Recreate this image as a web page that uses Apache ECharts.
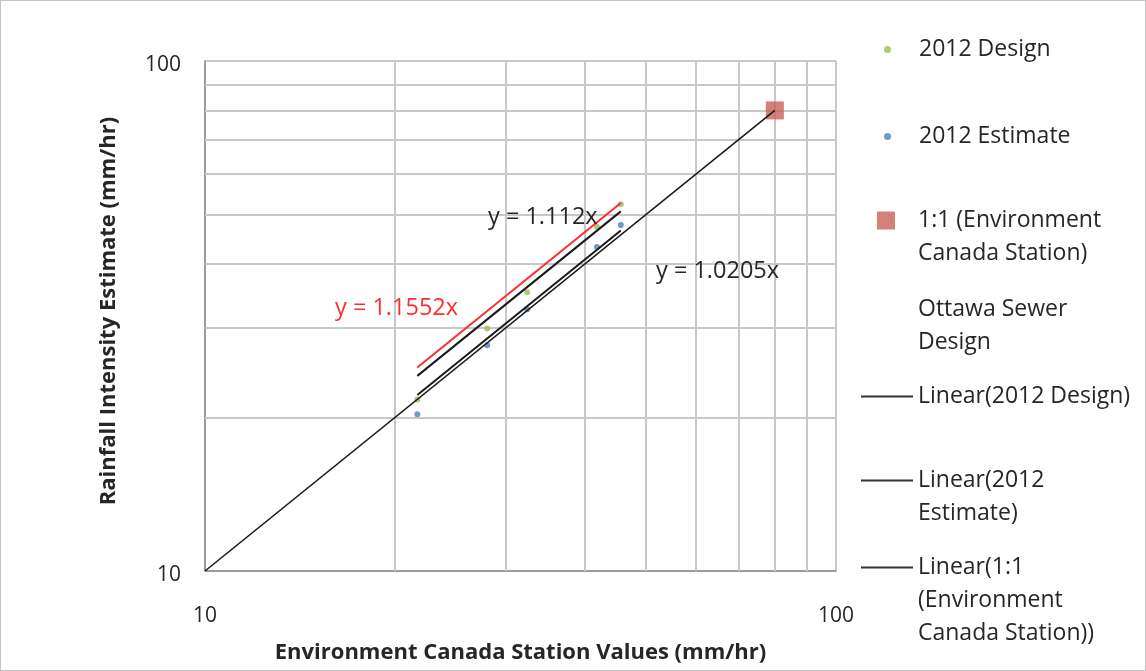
<!DOCTYPE html>
<html>
<head>
<meta charset="utf-8">
<script src="https://cdn.jsdelivr.net/npm/echarts@6/dist/echarts.min.js"></script>
<style>
html,body{margin:0;padding:0;background:#fff;}
#chart{width:1144px;height:669px;border:1px solid #c4c4c4;}
</style>
</head>
<body>
<div id="chart"></div>
<script>
// ---- data ----
const stationValues = [21.7, 28.0, 32.4, 41.8, 45.6];
const design2012 = [21.7, 29.9, 35.2, 47.3, 52.4];
const estimate2012 = [20.3, 27.7, 32.6, 43.2, 47.7];
const stationPointX = [80];
const stationPointY = [80];
// trend lines (endpoints)
const ottawaX = [21.7, 45.6];
const ottawaY = [25.07, 52.68];
const designTrendX = [21.7, 45.6];
const designTrendY = [24.13, 50.71];
const estimateTrendX = [21.7, 45.6];
const estimateTrendY = [22.14, 46.53];
const oneToOneX = [10, 80];
const oneToOneY = [10, 80];
const minorGridValues = [20, 30, 40, 50, 60, 70, 80, 90];
const equationLabels = ['y = 1.1552x', 'y = 1.112x', 'y = 1.0205x'];

const zip = (a, b) => a.map((v, i) => [v, b[i]]);
const FONT = 'Open Sans';
const TXT = '#262626';
const LH = 33;

const chart = echarts.init(document.getElementById('chart'));

function legendItem(name, top, left, opts) {
  const n = (opts.label.match(/\n/g) || []).length + 1;
  const text = '\n'.repeat(n - 1) + opts.label;
  return Object.assign({
    show: true,
    orient: 'vertical',
    left: left,
    top: top,
    padding: 0,
    selectedMode: false,
    itemWidth: 52,
    itemHeight: 7,
    data: [name],
    formatter: () => text,
    textStyle: {
      fontFamily: FONT, fontSize: 23, color: TXT, lineHeight: LH,
      padding: [0, 0, 0, opts.padLeft || 0]
    }
  }, opts.extra || {});
}

const option = {
  animation: false,
  backgroundColor: '#fff',
  grid: { left: 204, top: 60, width: 631, height: 510 },
  xAxis: {
    type: 'log', logBase: 10, min: 10, max: 100,
    name: 'Environment Canada Station Values (mm/hr)',
    nameLocation: 'middle', nameGap: 71,
    nameTextStyle: { fontFamily: FONT, fontSize: 22, fontWeight: 'bold', color: TXT },
    axisLine: { show: true, lineStyle: { color: '#8c8c8c', width: 1.5 } },
    axisTick: { show: false },
    axisLabel: { fontFamily: FONT, fontSize: 21, color: TXT, margin: 35 },
    splitLine: { show: true, lineStyle: { color: '#c8c8c8', width: 2 } }
  },
  yAxis: {
    type: 'log', logBase: 10, min: 10, max: 100,
    name: 'Rainfall Intensity Estimate (mm/hr)',
    nameLocation: 'middle', nameGap: 85,
    nameTextStyle: { fontFamily: FONT, fontSize: 22, fontWeight: 'bold', color: TXT,
      padding: [0, 0, 0, 10] },
    axisLine: { show: true, lineStyle: { color: '#8c8c8c', width: 1.5 } },
    axisTick: { show: false },
    axisLabel: { fontFamily: FONT, fontSize: 21, color: TXT, margin: 24,
      verticalAlign: 'top', lineHeight: 8 },
    splitLine: { show: true, lineStyle: { color: '#c8c8c8', width: 2 } }
  },
  legend: [
    legendItem('2012 Design', 32, 883, { label: '2012 Design', padLeft: 23,
      extra: { icon: 'circle', itemWidth: 7 } }),
    legendItem('2012 Estimate', 119, 883, { label: '2012 Estimate', padLeft: 23,
      extra: { icon: 'circle', itemWidth: 7 } }),
    legendItem('1:1 (Environment Canada Station)', 170, 876, {
      label: '1:1 (Environment\nCanada Station)', padLeft: 18,
      extra: { icon: 'rect', itemWidth: 18, itemHeight: 18 }
    }),
    legendItem('Ottawa Sewer Design', 259, 860, {
      label: 'Ottawa Sewer\nDesign',
      extra: { icon: 'rect', itemHeight: 2, itemStyle: { opacity: 0 } }
    }),
    legendItem('Linear(2012 Design)', 379, 860, {
      label: 'Linear(2012 Design)', extra: { icon: 'rect', itemHeight: 2 }
    }),
    legendItem('Linear(2012 Estimate)', 430, 860, {
      label: 'Linear(2012\nEstimate)', extra: { icon: 'rect', itemHeight: 2 }
    }),
    legendItem('Linear(1:1 (Environment Canada Station))', 484, 860, {
      label: 'Linear(1:1\n(Environment\nCanada Station))', extra: { icon: 'rect', itemHeight: 2 }
    })
  ],
  series: [
    {
      name: '2012 Design', type: 'scatter', symbol: 'circle', symbolSize: 6,
      itemStyle: { color: '#9bbb59' },
      data: zip(stationValues, design2012),
      markLine: {
        silent: true, symbol: ['none', 'none'], z: 1,
        label: { show: false },
        lineStyle: { color: '#c8c8c8', width: 2, type: 'solid' },
        emphasis: { disabled: true },
        data: minorGridValues.map(v => ({ xAxis: v }))
          .concat(minorGridValues.map(v => ({ yAxis: v })))
      }
    },
    {
      name: '2012 Estimate', type: 'scatter', symbol: 'circle', symbolSize: 6,
      itemStyle: { color: '#4f81bd' },
      data: zip(stationValues, estimate2012)
    },
    {
      name: '1:1 (Environment Canada Station)', type: 'scatter', symbol: 'rect', symbolSize: 18,
      itemStyle: { color: '#c9605a' },
      data: zip(stationPointX, stationPointY)
    },
    {
      name: 'Ottawa Sewer Design', type: 'line', showSymbol: false,
      lineStyle: { color: '#ff2e2e', width: 2 }, itemStyle: { color: '#ff2e2e' },
      data: zip(ottawaX, ottawaY), z: 3
    },
    {
      name: 'Linear(2012 Design)', type: 'line', showSymbol: false,
      lineStyle: { color: '#1a1a1a', width: 2 }, itemStyle: { color: '#333' },
      data: zip(designTrendX, designTrendY), z: 3
    },
    {
      name: 'Linear(2012 Estimate)', type: 'line', showSymbol: false,
      lineStyle: { color: '#1a1a1a', width: 2 }, itemStyle: { color: '#333' },
      data: zip(estimateTrendX, estimateTrendY), z: 3
    },
    {
      name: 'Linear(1:1 (Environment Canada Station))', type: 'line', showSymbol: false,
      lineStyle: { color: '#1a1a1a', width: 1.6 }, itemStyle: { color: '#333' },
      data: zip(oneToOneX, oneToOneY), z: 3
    }
  ],
  graphic: [
    { type: 'text', left: 334, top: 295, z: 10,
      style: { text: equationLabels[0], fontFamily: FONT, fontSize: 23.5, fill: '#ff2e2e' } },
    { type: 'text', left: 487, top: 204, z: 10,
      style: { text: equationLabels[1], fontFamily: FONT, fontSize: 23.5, fill: TXT } },
    { type: 'text', left: 655, top: 258, z: 10,
      style: { text: equationLabels[2], fontFamily: FONT, fontSize: 23.5, fill: TXT } }
  ]
};
chart.setOption(option);
</script>
</body>
</html>
